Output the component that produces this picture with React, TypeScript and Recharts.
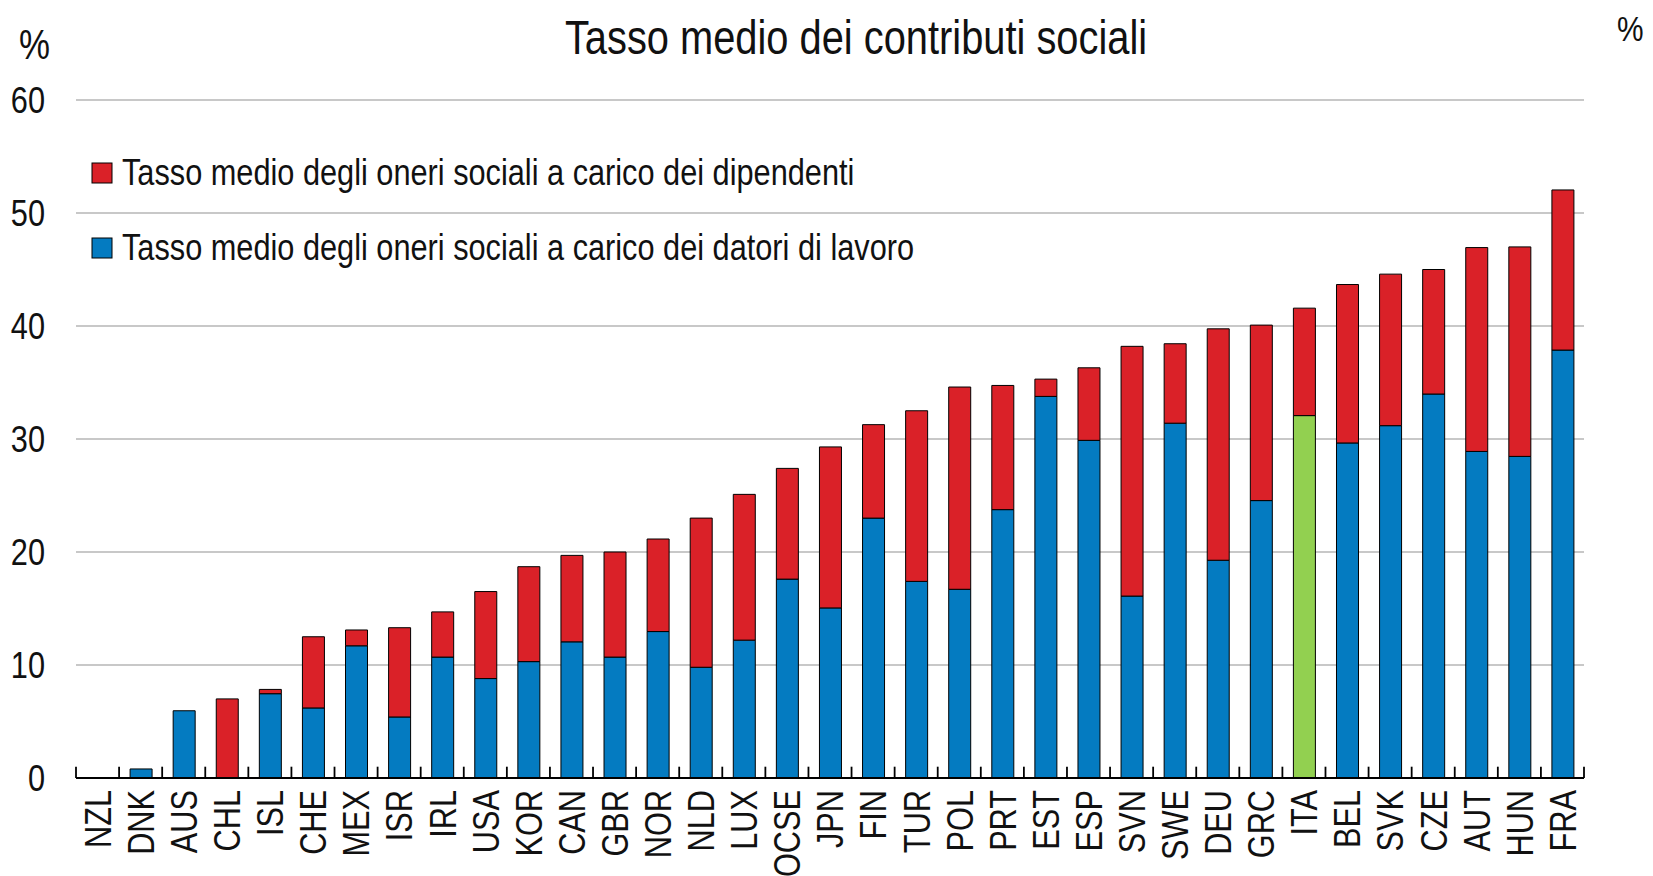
import React from "react";
import { BarChart, Bar, XAxis, YAxis, CartesianGrid, Cell, ReferenceLine } from "recharts";

const countries = [
  "NZL", "DNK", "AUS", "CHL", "ISL", "CHE", "MEX", "ISR", "IRL", "USA", "KOR", "CAN",
  "GBR", "NOR", "NLD", "LUX", "OCSE", "JPN", "FIN", "TUR", "POL", "PRT", "EST", "ESP",
  "SVN", "SWE", "DEU", "GRC", "ITA", "BEL", "SVK", "CZE", "AUT", "HUN", "FRA",
];

// employer contributions (blue)
const datori = [
  0, 0.8, 5.95, 0, 7.46, 6.2, 11.7, 5.4, 10.7, 8.8, 10.3, 12.05,
  10.7, 12.96, 9.8, 12.2, 17.6, 15.05, 23.0, 17.4, 16.7, 23.75, 33.77, 29.88,
  16.1, 31.4, 19.27, 24.55, 32.07, 29.65, 31.18, 33.98, 28.9, 28.46, 37.87,
];

// employee contributions (red)
const dipendenti = [
  0, 0, 0, 7.0, 0.38, 6.3, 1.4, 7.9, 4.0, 7.7, 8.4, 7.65,
  9.3, 8.19, 13.2, 12.9, 9.8, 14.25, 8.27, 15.1, 17.9, 10.99, 1.53, 6.42,
  22.1, 7.03, 20.48, 15.53, 9.51, 14.02, 13.41, 11.02, 18.04, 18.54, 14.17,
];

const yTicks = [0, 10, 20, 30, 40, 50, 60];

const title = "Tasso medio dei contributi sociali";
const legendDipendenti = "Tasso medio degli oneri sociali a carico dei dipendenti";
const legendDatori = "Tasso medio degli oneri sociali a carico dei datori di lavoro";

const RED = "#DA2128";
const BLUE = "#047BC1";
const GREEN = "#92D050";
const FONT = "'Liberation Sans', Arial, sans-serif";
// no narrow font installed: squeeze glyphs horizontally
const NARROW = 0.83;
// height of the small category separators on the x axis, in value units
const SEP_H = 1;

const W = 1653;
const H = 876;
const LEFT_W = 76;
const RIGHT_W = 69;

const data = countries.map((c, i) => ({
  country: c,
  datori: datori[i],
  dipendenti: dipendenti[i],
}));

function NText({ x, y, size, anchor = "start", rotate = 0, dy, children }: any) {
  return (
    <g transform={`translate(${x}, ${y}) rotate(${rotate}) scale(${NARROW}, 1)`}>
      <text x={0} y={0} dy={dy} textAnchor={anchor} fontSize={size} fontFamily={FONT} fill="#111">
        {children}
      </text>
    </g>
  );
}

function XTick(props: any) {
  const { x, y, payload } = props;
  return (
    <NText x={x} y={y + 12} size={37} anchor="end" rotate={-90} dy="0.36em">
      {payload.value}
    </NText>
  );
}

function YTick(props: any) {
  const { x, y, payload, anchor } = props;
  return (
    <NText x={x} y={y} size={37} anchor={anchor} dy="0.36em">
      {payload.value}
    </NText>
  );
}

export default function App() {
  const last = countries[countries.length - 1];
  return (
    <div style={{ position: "absolute", left: 0, top: 0, width: W, height: H, background: "#fff" }}>
      <BarChart
        width={W}
        height={H}
        data={data}
        margin={{ top: 100, right: 0, bottom: 0, left: 0 }}
        barSize={22}
      >
        <CartesianGrid vertical={false} stroke="#C8C8C8" strokeWidth={2} />
        <XAxis
          dataKey="country"
          height={98}
          interval={0}
          tickSize={0}
          tickMargin={0}
          tickLine={false}
          axisLine={{ stroke: "#000", strokeWidth: 2 }}
          tick={<XTick />}
        />
        <YAxis
          domain={[0, 60]}
          ticks={yTicks}
          width={LEFT_W}
          axisLine={false}
          tickLine={false}
          tickSize={0}
          tickMargin={31}
          tick={<YTick anchor="end" />}
        />
        <YAxis
          yAxisId="r"
          orientation="right"
          domain={[0, 60]}
          ticks={yTicks}
          width={RIGHT_W}
          axisLine={false}
          tickLine={false}
          tickSize={0}
          tickMargin={32}
          tick={<YTick anchor="start" />}
        />
        <Bar dataKey="datori" stackId="a" fill={BLUE} stroke="#000" strokeWidth={1} isAnimationActive={false}>
          {data.map((d) => (
            <Cell key={d.country} fill={d.country === "ITA" ? GREEN : BLUE} />
          ))}
        </Bar>
        <Bar dataKey="dipendenti" stackId="a" fill={RED} stroke="#000" strokeWidth={1} isAnimationActive={false} />
        {countries.map((c) => (
          <ReferenceLine
            key={"sep-" + c}
            segment={[{ x: c, y: 0 }, { x: c, y: SEP_H }]}
            position="start"
            stroke="#000"
            strokeWidth={1.8}
          />
        ))}
        <ReferenceLine
          segment={[{ x: last, y: 0 }, { x: last, y: SEP_H }]}
          position="end"
          stroke="#000"
          strokeWidth={1.8}
        />
      </BarChart>
      <svg
        width={W}
        height={H}
        style={{ position: "absolute", left: 0, top: 0, pointerEvents: "none" }}
      >
        <NText x={856} y={54} size={48} anchor="middle">{title}</NText>
        <NText x={19} y={59} size={42}>%</NText>
        <NText x={1617} y={41} size={36}>%</NText>
        <rect x={92} y={163} width={20} height={20} fill={RED} stroke="#000" strokeWidth={1} />
        <NText x={122} y={185} size={37}>{legendDipendenti}</NText>
        <rect x={92} y={238} width={20} height={20} fill={BLUE} stroke="#000" strokeWidth={1} />
        <NText x={122} y={260} size={37}>{legendDatori}</NText>
      </svg>
    </div>
  );
}
